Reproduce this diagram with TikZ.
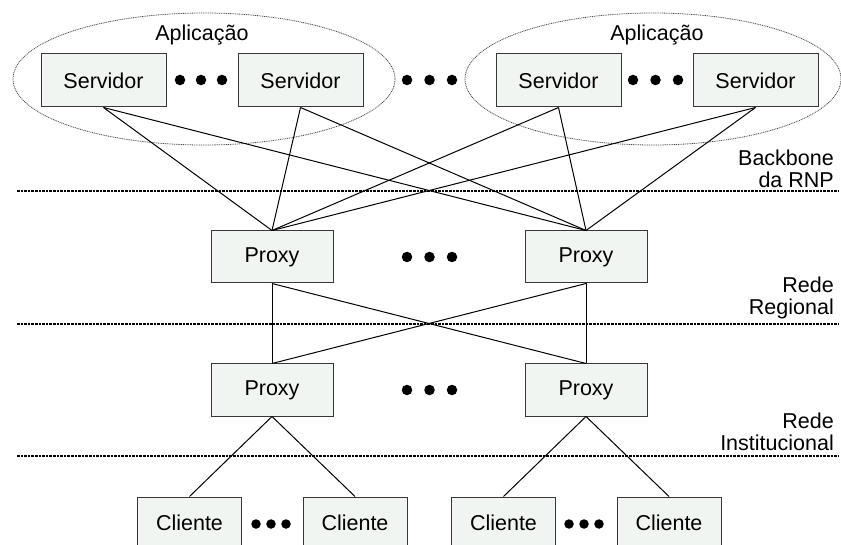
\documentclass[tikz,border=0pt]{standalone}
\usepackage{fontspec}
\setmainfont{Liberation Sans}
\usetikzlibrary{shapes.geometric}
\definecolor{boxfill}{RGB}{241,245,241}
\definecolor{boxline}{RGB}{55,55,55}
\begin{document}
\begin{tikzpicture}[x=1pt,y=-1pt,
  font=\fontsize{21.5}{22}\selectfont,
  boxbase/.style={draw=boxline,line width=1pt,fill=boxfill,inner sep=0pt},
  serverbox/.style={boxbase,minimum width=125pt,minimum height=53pt},
  proxybox/.style={boxbase,minimum width=122pt,minimum height=52pt},
  clientbox/.style={boxbase,minimum width=104pt,minimum height=52pt},
  link/.style={line width=1pt,black},
  netline/.style={line width=2.4pt,dash pattern=on 2.6pt off 1pt,black},
  group/.style={draw=gray!60!black,line width=0.8pt,dash pattern=on 1pt off 0.8pt},
  bigdot/.style={fill=black,circle,inner sep=0pt,minimum size=10.5pt},
  smalldot/.style={fill=black,circle,inner sep=0pt,minimum size=9.5pt},
  netlabel/.style={anchor=east,align=right,inner sep=0pt,font=\fontsize{21.5}{22}\selectfont}]
\useasboundingbox (0,0) rectangle (841,545);
\clip (0,0) rectangle (841,545);

% application groups
\draw[group] (204,79) ellipse [x radius=191, y radius=66];
\draw[group] (653,79) ellipse [x radius=188, y radius=66];
\node[inner sep=0pt] (app1) at (202,35) {Aplicação};
\node[inner sep=0pt] (app2) at (657,35) {Aplicação};

% network boundaries
\draw[netline] (17,191) -- (838,191);
\draw[netline] (17,324) -- (838,324);
\draw[netline] (17,456) -- (838,456);
\node[netlabel] (lbb) at (834,169) {Backbone\\da RNP};
\node[netlabel] (lrr) at (834,297.5) {Rede\\Regional};
\node[netlabel] (lri) at (834,431.5) {Rede\\Institucional};

% servers
\node[serverbox] (s1) at (103.5,80.5) {Servidor};
\node[serverbox] (s2) at (300.5,80.5) {Servidor};
\node[serverbox] (s3) at (558.5,80.5) {Servidor};
\node[serverbox] (s4) at (755.5,80.5) {Servidor};

% proxies
\node[proxybox] (p1) at (272,257) {Proxy};
\node[proxybox] (p2) at (586,257) {Proxy};
\node[proxybox] (p3) at (272,390) {Proxy};
\node[proxybox] (p4) at (586,390) {Proxy};

% clients
\node[clientbox] (c1) at (189.5,523) {Cliente};
\node[clientbox] (c2) at (355,523) {Cliente};
\node[clientbox] (c3) at (503.5,523) {Cliente};
\node[clientbox] (c4) at (669,523) {Cliente};

% ellipsis dots
\foreach \x/\y [count=\i] in {180/80,201/80,222/80,407/80,429.5/80,452/80,633/80,655.5/80,678/80,
                  407/257,429.5/257,452/257,407/390,429.5/390,452/390}
  \node[bigdot] (d\i) at (\x,\y) {};
\foreach \x/\y [count=\i] in {256/524,271/524,286/524,569/524,584/524,599/524}
  \node[smalldot] (e\i) at (\x,\y) {};

% links
\foreach \s in {s1,s2,s3,s4}
  \foreach \p in {p1,p2}
    \draw[link] (\s.south) -- (\p.north);
\draw[link] (p1.south) -- (p3.north);
\draw[link] (p1.south) -- (p4.north);
\draw[link] (p2.south) -- (p4.north);
\draw[link] (p2.south) -- (p3.north);
\draw[link] (p3.south) -- (c1.north);
\draw[link] (p3.south) -- (c2.north);
\draw[link] (p4.south) -- (c3.north);
\draw[link] (p4.south) -- (c4.north);
\end{tikzpicture}
\end{document}
